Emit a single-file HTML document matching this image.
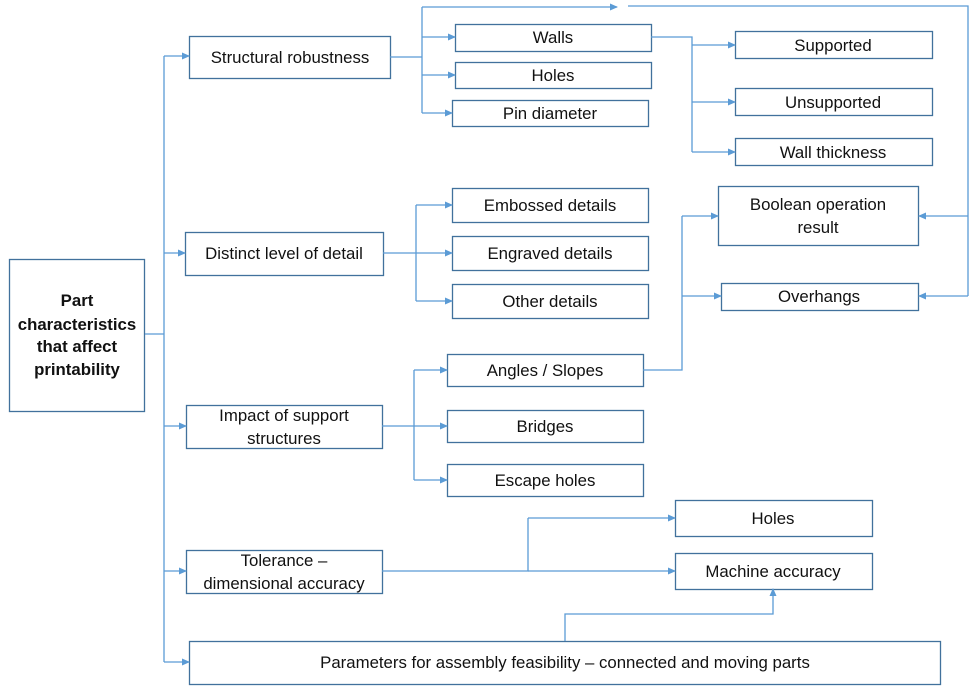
<!DOCTYPE html>
<html><head><style>body{margin:0;background:#fff}svg{display:block}text{font-family:"Liberation Sans",sans-serif;font-size:16.8px;fill:#111}</style></head><body>
<svg width="975" height="688" viewBox="0 0 975 688" xmlns="http://www.w3.org/2000/svg">
<defs><marker id="a" markerWidth="8" markerHeight="8" refX="7" refY="4" orient="auto" markerUnits="userSpaceOnUse"><path d="M0,0.5 L8,4 L0,7.5 z" fill="#5b9bd5"/></marker></defs>
<g fill="#fff" stroke="#41719c" stroke-width="1.3">
<rect x="9.5" y="259.5" width="135" height="152"/>
<rect x="189.5" y="36.5" width="201" height="42"/>
<rect x="185.5" y="232.5" width="198" height="43"/>
<rect x="186.5" y="405.5" width="196" height="43"/>
<rect x="186.5" y="550.5" width="196" height="43"/>
<rect x="189.5" y="641.5" width="751" height="43"/>
<rect x="455.5" y="24.5" width="196" height="27"/>
<rect x="455.5" y="62.5" width="196" height="26"/>
<rect x="452.5" y="100.5" width="196" height="26"/>
<rect x="735.5" y="31.5" width="197" height="27"/>
<rect x="735.5" y="88.5" width="197" height="27"/>
<rect x="735.5" y="138.5" width="197" height="27"/>
<rect x="718.5" y="186.5" width="200" height="59"/>
<rect x="721.5" y="283.5" width="197" height="27"/>
<rect x="452.5" y="188.5" width="196" height="34"/>
<rect x="452.5" y="236.5" width="196" height="34"/>
<rect x="452.5" y="284.5" width="196" height="34"/>
<rect x="447.5" y="354.5" width="196" height="32"/>
<rect x="447.5" y="410.5" width="196" height="32"/>
<rect x="447.5" y="464.5" width="196" height="32"/>
<rect x="675.5" y="500.5" width="197" height="36"/>
<rect x="675.5" y="553.5" width="197" height="36"/>
</g>
<g fill="none" stroke="#5b9bd5" stroke-width="1.3">
<path d="M145,334 H164 M164,56 V662"/>
<path d="M164,56 H189" marker-end="url(#a)"/><path d="M164,253 H185" marker-end="url(#a)"/><path d="M164,426 H186" marker-end="url(#a)"/><path d="M164,571 H186" marker-end="url(#a)"/><path d="M164,662 H189" marker-end="url(#a)"/>
<path d="M390,57 H422 M422,7 V113"/>
<path d="M422,7 H617" marker-end="url(#a)"/><path d="M422,37 H455" marker-end="url(#a)"/><path d="M422,75 H455" marker-end="url(#a)"/><path d="M422,113 H452" marker-end="url(#a)"/>
<path d="M628,6 H968 V296"/><path d="M968,216 H919" marker-end="url(#a)"/><path d="M968,296 H919" marker-end="url(#a)"/>
<path d="M651,37 H692 V152"/><path d="M692,45 H735" marker-end="url(#a)"/><path d="M692,102 H735" marker-end="url(#a)"/><path d="M692,152 H735" marker-end="url(#a)"/>
<path d="M383,253 H416 M416,205 V301"/><path d="M416,205 H452" marker-end="url(#a)"/><path d="M416,253 H452" marker-end="url(#a)"/><path d="M416,301 H452" marker-end="url(#a)"/>
<path d="M643,370 H682 V216"/><path d="M682,216 H718" marker-end="url(#a)"/><path d="M682,296 H721" marker-end="url(#a)"/>
<path d="M382,426 H414 M414,370 V480"/><path d="M414,370 H447" marker-end="url(#a)"/><path d="M414,426 H447" marker-end="url(#a)"/><path d="M414,480 H447" marker-end="url(#a)"/>
<path d="M382,571 H528 V518"/><path d="M528,518 H675" marker-end="url(#a)"/><path d="M528,571 H675" marker-end="url(#a)"/>
<path d="M565,641 V614 H773 V589" marker-end="url(#a)"/>
</g>
<g text-anchor="middle">
<g style="font-size:16px;font-weight:bold"><text x="77" y="306">Part</text><text x="77" y="330">characteristics</text><text x="77" y="352">that affect</text><text x="77" y="375">printability</text></g>
<text x="290" y="63">Structural robustness</text>
<text x="284" y="259">Distinct level of detail</text>
<text x="284" y="421">Impact of support</text><text x="284" y="444">structures</text>
<text x="284" y="566">Tolerance –</text><text x="284" y="589">dimensional accuracy</text>
<text x="565" y="668">Parameters for assembly feasibility – connected and moving parts</text>
<text x="553" y="43">Walls</text><text x="553" y="81">Holes</text><text x="550" y="119">Pin diameter</text>
<text x="833" y="51">Supported</text><text x="833" y="108">Unsupported</text><text x="833" y="158">Wall thickness</text>
<text x="818" y="210">Boolean operation</text><text x="818" y="233">result</text>
<text x="819" y="302">Overhangs</text>
<text x="550" y="211">Embossed details</text><text x="550" y="259">Engraved details</text><text x="550" y="307">Other  details</text>
<text x="545" y="376">Angles / Slopes</text><text x="545" y="432">Bridges</text><text x="545" y="486">Escape holes</text>
<text x="773" y="524">Holes</text><text x="773" y="577">Machine accuracy</text>
</g>
</svg>
</body></html>
